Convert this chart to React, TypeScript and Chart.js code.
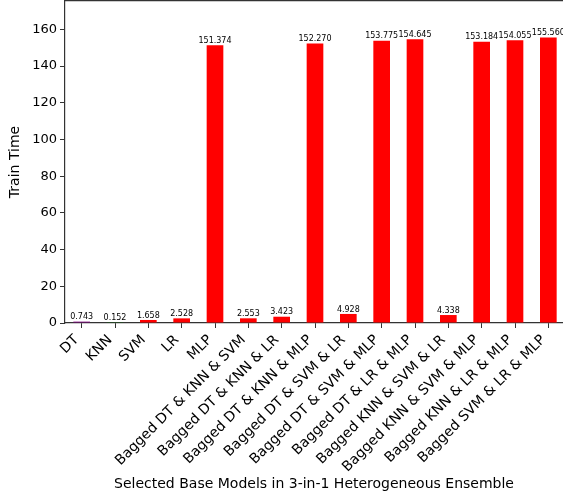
import React, { useEffect, useRef } from "react";
import { Chart, registerables } from "chart.js";
Chart.register(...registerables);

const categories = [
  "DT", "KNN", "SVM", "LR", "MLP",
  "Bagged DT & KNN & SVM", "Bagged DT & KNN & LR", "Bagged DT & KNN & MLP",
  "Bagged DT & SVM & LR", "Bagged DT & SVM & MLP", "Bagged DT & LR & MLP",
  "Bagged KNN & SVM & LR", "Bagged KNN & SVM & MLP", "Bagged KNN & LR & MLP",
  "Bagged SVM & LR & MLP",
];
const trainTimes = [
  0.743, 0.152, 1.658, 2.528, 151.374, 2.553, 3.423, 152.27, 4.928, 153.775,
  154.645, 4.338, 153.184, 154.055, 155.56,
];
const barColors = [
  "purple", "green", "red", "red", "red", "red", "red", "red", "red", "red",
  "red", "red", "red", "red", "red",
];
const yTicks = [0, 20, 40, 60, 80, 100, 120, 140, 160];
const yMax = 176;
const xTitle = "Selected Base Models in 3-in-1 Heterogeneous Ensemble";
const yTitle = "Train Time";

const FONT = "DejaVu Sans";

export default function App() {
  const ref = useRef<HTMLCanvasElement>(null);
  useEffect(() => {
    const canvas = ref.current!;
    const extras = {
      id: "extras",
      afterDatasetsDraw(chart: any) {
        const ctx = chart.ctx;
        const meta = chart.getDatasetMeta(0);
        ctx.save();
        ctx.fillStyle = "#000";
        ctx.font = `8px ${FONT}`;
        ctx.textAlign = "center";
        ctx.textBaseline = "bottom";
        meta.data.forEach((bar: any, i: number) => {
          ctx.fillText(trainTimes[i].toFixed(3), bar.x, bar.y - 0.5);
        });
        ctx.restore();
      },
      afterDraw(chart: any) {
        const ctx = chart.ctx;
        const a = chart.chartArea;
        const xs = chart.scales.x;
        ctx.save();
        ctx.strokeStyle = "#333";
        ctx.lineWidth = 1.2;
        ctx.beginPath();
        ctx.moveTo(a.left, a.top + 0.6);
        ctx.lineTo(a.right, a.top + 0.6);
        ctx.stroke();

        // rotated x tick labels, matplotlib style (rotation 45, ha right, va top)
        const size = 14;
        const asc = 0.74 * size;
        const desc = 0.24 * size;
        const c = Math.SQRT1_2;
        const y0 = a.bottom + 10;
        ctx.font = `${size}px ${FONT}`;
        ctx.fillStyle = "#000";
        ctx.textAlign = "left";
        ctx.textBaseline = "alphabetic";
        categories.forEach((lab, i) => {
          const tx = xs.getPixelForTick(i);
          const w = ctx.measureText(lab).width;
          const ox = tx - c * (w + desc);
          const oy = y0 + c * (asc + w);
          ctx.save();
          ctx.translate(ox, oy);
          ctx.rotate(-Math.PI / 4);
          ctx.fillText(lab, 0, 0);
          ctx.restore();
        });

        ctx.font = `14px ${FONT}`;
        ctx.textAlign = "center";
        ctx.textBaseline = "middle";
        ctx.fillText(xTitle, 314, 484);
        ctx.translate(15, 162);
        ctx.rotate(-Math.PI / 2);
        ctx.fillText(yTitle, 0, 0);
        ctx.restore();
      },
    };
    const chart = new Chart(canvas, {
      type: "bar",
      data: {
        labels: categories,
        datasets: [
          {
            data: trainTimes,
            backgroundColor: barColors,
            barPercentage: 0.5,
            categoryPercentage: 1,
          },
        ],
      },
      options: {
        animation: false,
        responsive: false,
        devicePixelRatio: 1,
        layout: { padding: 0 },
        plugins: { legend: { display: false }, tooltip: { enabled: false } },
        scales: {
          x: {
            offset: true,
            grid: {
              drawOnChartArea: false,
              drawTicks: true,
              tickLength: 5,
              color: "#333",
              offset: false,
            },
            border: { display: true, color: "#333", width: 1.2 },
            ticks: { display: false, autoSkip: false },
            afterFit(scale: any) {
              scale.height = 174;
              scale.paddingLeft = 0;
              scale.paddingRight = 0;
              scale.paddingTop = 0;
              scale.paddingBottom = 0;
            },
          },
          y: {
            min: 0,
            max: yMax,
            afterBuildTicks(scale: any) {
              scale.ticks = yTicks.map((v) => ({ value: v }));
            },
            grid: {
              drawOnChartArea: false,
              drawTicks: true,
              tickLength: 5,
              color: "#333",
            },
            border: { display: true, color: "#333", width: 1.2 },
            ticks: {
              color: "#000",
              font: { family: FONT, size: 13 },
              padding: 3,
            },
            afterFit(scale: any) {
              scale.width = 65;
              scale.paddingTop = 0;
              scale.paddingBottom = 0;
              scale.paddingLeft = 0;
              scale.paddingRight = 0;
            },
          },
        },
      },
      plugins: [extras],
    });
    return () => chart.destroy();
  }, []);
  return (
    <div
      style={{
        position: "fixed",
        left: 0,
        top: 0,
        width: 563,
        height: 497,
        overflow: "hidden",
        background: "#fff",
      }}
    >
      <canvas ref={ref} width={565} height={497} style={{ display: "block" }} />
    </div>
  );
}
